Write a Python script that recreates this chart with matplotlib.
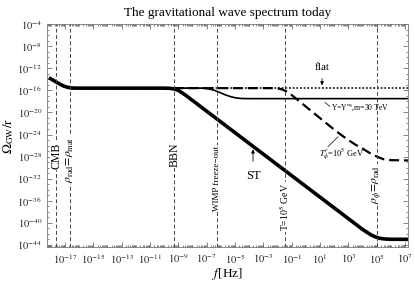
import numpy as np
import matplotlib
matplotlib.use('Agg')
import matplotlib.pyplot as plt
from matplotlib.ticker import FixedLocator, NullFormatter

# fonts: Times-like text, stix math
plt.rcParams['font.family'] = 'serif'
plt.rcParams['font.serif'] = ['Liberation Serif', 'DejaVu Serif']
plt.rcParams['mathtext.fontset'] = 'stix'

# ---- data (log10 values) ----
st_logf = [-18.13, -17.9, -17.7, -17.5, -17.3, -17.1, -16.9, -16.7, -16.5, -16.2,
           -10.0, -9.6, -9.3, -9.0, -8.5, 4.0, 4.3, 4.6, 4.9, 5.2, 5.5, 5.9, 7.2]
st_logO = [-13.7, -14.05, -14.36, -14.65, -14.95, -15.2, -15.38, -15.5, -15.57, -15.6,
           -15.6, -15.63, -15.75, -16.0, -16.85, -41.2, -41.7, -42.2, -42.55, -42.8, -42.92, -42.98, -43.0]

reh_logf = [-16.7, -2.4, -2.0, -1.7, -1.4, -1.0, 1.7, 2.5, 3.0, 3.5, 4.0, 4.5, 5.0, 5.5, 6.0, 7.2]
reh_logO = [-15.6, -15.6, -15.65, -15.8, -16.15, -16.85, -22.5, -24.1, -25.0, -25.85, -26.55,
            -27.35, -28.0, -28.5, -28.65, -28.7]

wimp_logf = [-16.7, -7.3, -6.9, -6.5, -6.1, -5.7, -5.3, -4.9, -4.5, -4.0, 7.2]
wimp_logO = [-15.6, -15.6, -15.7, -15.95, -16.35, -16.8, -17.15, -17.38, -17.48, -17.5, -17.5]

flat_logf = [-16.7, 7.2]
flat_logO = [-15.6, -15.6]

# vertical reference lines: position (log10 f), label, label height (axes frac)
vl_logf = [-17.6, -16.65, -9.28, -6.27, -1.5, 5.0]
vl_text = ['CMB', r'$\rho_{\rm rad}\!=\!\rho_{\rm mat}$', 'BBN', 'WIMP freeze\u2212out',
           r'T=10$^5$ GeV', r'$\rho_\phi\!=\!\rho_{\rm rad}$']
vl_ypos = [0.41, 0.39, 0.415, 0.31, 0.18, 0.28]
vl_size = [8.5, 8.5, 8.5, 6.5, 7, 8.5]

xticks_exp = list(range(-17, 8, 2))
yticks_exp = list(range(-44, -3, 4))

# ---- figure ----
fig = plt.figure(figsize=(4.15, 2.84), dpi=100)
ax = fig.add_axes([0.113, 0.130, 0.870, 0.785])

tp = lambda v: [10.0 ** e for e in v]

ax.plot(tp(flat_logf), tp(flat_logO), color='black', lw=1.1, ls=(0, (1.2, 1.2)))
ax.plot(tp(wimp_logf), tp(wimp_logO), color='black', lw=1.2)
ax.plot(tp(reh_logf), tp(reh_logO), color='black', lw=1.6, ls=(0, (4.5, 2.2)))
ax.plot(tp(st_logf), tp(st_logO), color='black', lw=2.6, solid_capstyle='butt')

for lf, txt, yp, fs in zip(vl_logf, vl_text, vl_ypos, vl_size):
    ax.axvline(10.0 ** lf, color='#444444', lw=0.7, ls=(0, (4, 2.5)))
    ax.text(10.0 ** lf, yp, txt, rotation=90, ha='center', va='center', fontsize=fs,
            transform=ax.get_xaxis_transform(),
            bbox=dict(facecolor='white', edgecolor='none', pad=0.6))

# annotations
ax.annotate('flat', xy=(10**1.14, 10**-15.1), xytext=(10**1.14, 10**-11.8),
            ha='center', va='center', fontsize=8,
            arrowprops=dict(arrowstyle='-|>', color='black', lw=0.6, mutation_scale=5,
                            shrinkA=3, shrinkB=0))
ax.annotate('ST', xy=(10**-3.73, 10**-26.7), xytext=(10**-3.73, 10**-31.45),
            ha='center', va='center', fontsize=9,
            arrowprops=dict(arrowstyle='-|>', color='black', lw=0.6, mutation_scale=5,
                            shrinkA=4, shrinkB=0))
ax.plot([10**1.35, 10**1.70], [10**-18.2, 10**-18.9], color='black', lw=0.5)
ax.text(10**3.82, 10**-19.1, r'Y=Y$^{\rm eq}$,m=30 TeV', fontsize=5.5, ha='center', va='center')
ax.plot([10**1.56, 10**2.27], [10**-26.2, 10**-24.4], color='black', lw=0.5)
ax.text(10**2.55, 10**-27.7, r'$T^r_\phi$=10$^5$ GeV', fontsize=6, ha='center', va='center')

ax.set_xscale('log')
ax.set_yscale('log')
ax.set_xlim(10**-18.27, 10**7.2)
ax.set_ylim(10**-44.4, 1e-4)

ax.xaxis.set_major_locator(FixedLocator(tp(xticks_exp)))
ax.set_xticklabels([r'$10^{%d}$' % e for e in xticks_exp])
ax.yaxis.set_major_locator(FixedLocator(tp(yticks_exp)))
ax.set_yticklabels([r'$10^{%d}$' % e for e in yticks_exp])
xm = [s * 10.0 ** k for k in range(-19, 8) for s in range(1, 10)]
ax.xaxis.set_minor_locator(FixedLocator(xm))
ax.yaxis.set_minor_locator(FixedLocator(tp(range(-45, -3))))
ax.xaxis.set_minor_formatter(NullFormatter())
ax.yaxis.set_minor_formatter(NullFormatter())

ax.tick_params(which='both', direction='in', top=True, right=True, colors='#555555',
               labelcolor='#222222', labelsize=7.5, width=0.5)
ax.tick_params(which='major', length=3.5)
ax.tick_params(which='minor', length=1.5)
for sp in ax.spines.values():
    sp.set_color('#777777')
    sp.set_linewidth(0.6)

ax.set_xlabel(r'$f$[Hz]', fontsize=9.5, labelpad=0)
ax.set_ylabel(r'$\Omega_{\rm GW}/{\rm r}$', fontsize=9.5, labelpad=1)
ax.set_title('The gravitational wave spectrum today', fontsize=9.5, pad=6)

fig.savefig('out.png', dpi=100)
